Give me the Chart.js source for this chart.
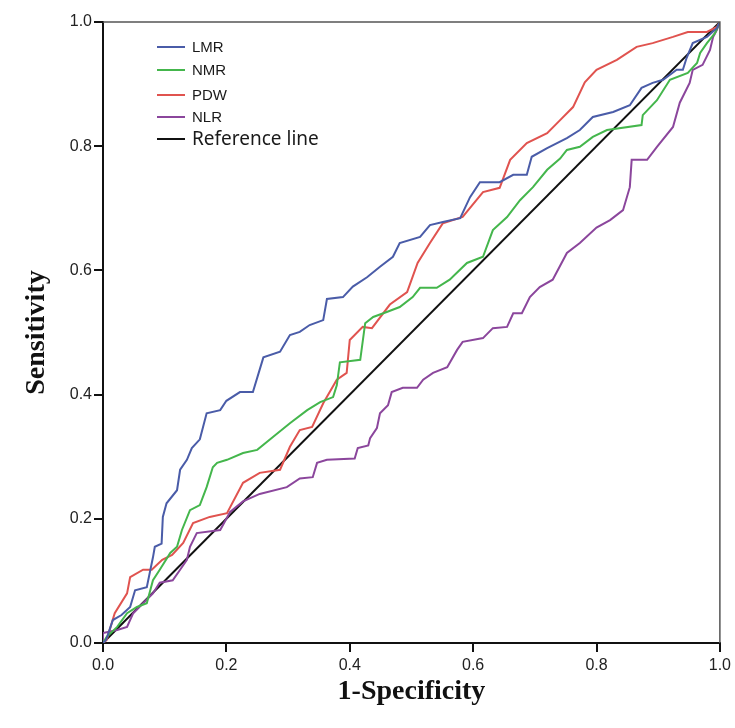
<!DOCTYPE html>
<html>
<head>
<meta charset="utf-8">
<script src="https://cdn.jsdelivr.net/npm/chart.js@4"></script>
<style>
  html, body { margin: 0; padding: 0; background: #fff; }
  #wrap { width: 735px; height: 728px; }
</style>
</head>
<body>
<div id="wrap"><canvas id="roc" width="735" height="728"></canvas></div>
<script>
// ---- data (x = 1-specificity, y = sensitivity) ----
const LMR_X = [0, 0.005, 0.016, 0.03, 0.044, 0.052, 0.071, 0.081, 0.084, 0.095, 0.097, 0.103, 0.12, 0.125, 0.136, 0.144, 0.157, 0.168, 0.19, 0.2, 0.222, 0.243, 0.26, 0.287, 0.303, 0.319, 0.335, 0.357, 0.363, 0.389, 0.405, 0.428, 0.449, 0.47, 0.481, 0.514, 0.53, 0.551, 0.579, 0.595, 0.611, 0.643, 0.665, 0.687, 0.695, 0.72, 0.752, 0.773, 0.794, 0.827, 0.854, 0.873, 0.891, 0.908, 0.93, 0.94, 0.946, 0.956, 0.979, 0.995, 1];
const LMR_Y = [0, 0.005, 0.037, 0.045, 0.058, 0.085, 0.09, 0.138, 0.155, 0.16, 0.203, 0.225, 0.246, 0.279, 0.295, 0.314, 0.328, 0.37, 0.375, 0.39, 0.404, 0.404, 0.46, 0.469, 0.496, 0.501, 0.512, 0.52, 0.554, 0.557, 0.574, 0.589, 0.606, 0.622, 0.644, 0.654, 0.673, 0.678, 0.684, 0.718, 0.742, 0.742, 0.754, 0.754, 0.783, 0.797, 0.813, 0.826, 0.847, 0.855, 0.866, 0.894, 0.902, 0.907, 0.923, 0.923, 0.942, 0.966, 0.976, 0.99, 1];

const NMR_X = [0, 0.006, 0.023, 0.039, 0.055, 0.071, 0.081, 0.092, 0.109, 0.12, 0.128, 0.141, 0.157, 0.168, 0.178, 0.185, 0.201, 0.227, 0.25, 0.276, 0.303, 0.331, 0.352, 0.373, 0.379, 0.384, 0.417, 0.425, 0.438, 0.46, 0.481, 0.502, 0.514, 0.541, 0.562, 0.59, 0.616, 0.632, 0.655, 0.676, 0.697, 0.72, 0.741, 0.752, 0.773, 0.794, 0.817, 0.873, 0.875, 0.898, 0.919, 0.948, 0.963, 0.968, 0.979, 0.992, 1];
const NMR_Y = [0, 0.01, 0.026, 0.048, 0.058, 0.064, 0.101, 0.118, 0.145, 0.155, 0.182, 0.214, 0.222, 0.251, 0.283, 0.29, 0.295, 0.306, 0.311, 0.332, 0.354, 0.375, 0.388, 0.396, 0.415, 0.452, 0.456, 0.515, 0.525, 0.533, 0.541, 0.557, 0.572, 0.572, 0.585, 0.612, 0.622, 0.665, 0.686, 0.713, 0.734, 0.762, 0.78, 0.794, 0.799, 0.815, 0.826, 0.834, 0.85, 0.874, 0.907, 0.918, 0.934, 0.95, 0.966, 0.982, 1];

const PDW_X = [0, 0.006, 0.019, 0.039, 0.044, 0.065, 0.079, 0.096, 0.112, 0.13, 0.146, 0.173, 0.201, 0.227, 0.254, 0.287, 0.303, 0.319, 0.339, 0.357, 0.379, 0.395, 0.4, 0.421, 0.436, 0.465, 0.493, 0.51, 0.53, 0.551, 0.583, 0.616, 0.643, 0.66, 0.687, 0.72, 0.741, 0.762, 0.781, 0.8, 0.833, 0.865, 0.891, 0.924, 0.948, 0.979, 0.995, 1];
const PDW_Y = [0, 0.005, 0.048, 0.08, 0.106, 0.118, 0.118, 0.134, 0.142, 0.161, 0.193, 0.203, 0.209, 0.258, 0.274, 0.279, 0.316, 0.343, 0.348, 0.386, 0.424, 0.435, 0.488, 0.509, 0.507, 0.545, 0.565, 0.612, 0.644, 0.676, 0.686, 0.726, 0.733, 0.778, 0.805, 0.821, 0.842, 0.863, 0.903, 0.923, 0.939, 0.96, 0.966, 0.976, 0.984, 0.984, 0.992, 1];

const NLR_X = [0, 0, 0.023, 0.039, 0.049, 0.065, 0.081, 0.092, 0.113, 0.125, 0.136, 0.141, 0.152, 0.19, 0.206, 0.227, 0.254, 0.298, 0.319, 0.34, 0.347, 0.363, 0.408, 0.413, 0.43, 0.433, 0.444, 0.449, 0.462, 0.468, 0.486, 0.509, 0.519, 0.535, 0.558, 0.574, 0.583, 0.616, 0.632, 0.655, 0.665, 0.679, 0.692, 0.708, 0.729, 0.752, 0.773, 0.8, 0.822, 0.843, 0.854, 0.857, 0.882, 0.898, 0.924, 0.935, 0.951, 0.956, 0.972, 0.984, 0.989, 0.995, 1];
const NLR_Y = [0, 0.016, 0.021, 0.026, 0.048, 0.064, 0.08, 0.097, 0.101, 0.118, 0.134, 0.155, 0.177, 0.182, 0.211, 0.228, 0.24, 0.251, 0.265, 0.267, 0.29, 0.295, 0.297, 0.314, 0.318, 0.33, 0.346, 0.37, 0.383, 0.404, 0.411, 0.411, 0.424, 0.435, 0.444, 0.472, 0.485, 0.491, 0.507, 0.509, 0.531, 0.531, 0.557, 0.573, 0.585, 0.628, 0.644, 0.669, 0.681, 0.697, 0.734, 0.778, 0.778, 0.799, 0.831, 0.87, 0.902, 0.923, 0.931, 0.955, 0.976, 0.987, 1];

const REF_X = [0, 1];
const REF_Y = [0, 1];

const SERIES_NAMES = ["LMR", "NMR", "PDW", "NLR", "Reference line"];
const SERIES_COLORS = ["#4a5ca8", "#44b64c", "#e0534f", "#8b469c", "#111111"];
const AXIS_TICKS = [0, 0.2, 0.4, 0.6, 0.8, 1.0];

function toPoints(xs, ys) {
    return xs.map((x, i) => ({ x: x, y: ys[i] }));
}

// ---- small plugin: top/right frame + legend inside the plot ----
const frameAndLegend = {
    id: "frameAndLegend",
    afterDraw(chart) {
        const { ctx, chartArea: a } = chart;
        ctx.save();
        // frame on top and right
        ctx.strokeStyle = "#555";
        ctx.lineWidth = 1.5;
        ctx.beginPath();
        ctx.moveTo(a.left, a.top);
        ctx.lineTo(a.right, a.top);
        ctx.lineTo(a.right, a.bottom);
        ctx.stroke();

        // legend
        const rows = [25, 48, 73, 95, 117];
        chart.data.datasets.forEach((ds, i) => {
            const y = a.top + rows[i];
            ctx.strokeStyle = ds.borderColor;
            ctx.lineWidth = 2;
            ctx.beginPath();
            ctx.moveTo(a.left + 54, y);
            ctx.lineTo(a.left + 82, y);
            ctx.stroke();
            ctx.fillStyle = "#1a1a1a";
            ctx.textBaseline = "middle";
            ctx.font = i === 4 ? "19px 'Noto Sans'" : "15px 'Liberation Sans'";
            ctx.fillText(ds.label, a.left + 89, y + 1);
        });
        ctx.restore();
    }
};

function makeDataset(i, xs, ys) {
    return {
        label: SERIES_NAMES[i],
        data: toPoints(xs, ys),
        borderColor: SERIES_COLORS[i],
        backgroundColor: SERIES_COLORS[i],
        borderWidth: 2,
        pointRadius: 0,
        showLine: true,
        tension: 0
    };
}

const axisCommon = {
    type: "linear",
    min: 0,
    max: 1,
    afterBuildTicks: (scale) => { scale.ticks = AXIS_TICKS.map(v => ({ value: v })); },
    grid: { drawOnChartArea: false, drawTicks: true, tickLength: 9, color: "#111", lineWidth: 2 },
    border: { color: "#111", width: 2 }
};

window.onload = () => {
    new Chart(document.getElementById("roc"), {
        type: "scatter",
        data: {
            datasets: [
                makeDataset(0, LMR_X, LMR_Y),
                makeDataset(1, NMR_X, NMR_Y),
                makeDataset(2, PDW_X, PDW_Y),
                makeDataset(3, NLR_X, NLR_Y),
                makeDataset(4, REF_X, REF_Y)
            ]
        },
        options: {
            responsive: false,
            animation: false,
            layout: { padding: { left: 0, top: 22, right: 15, bottom: 0 } },
            plugins: {
                legend: { display: false },
                tooltip: { enabled: false }
            },
            scales: {
                x: {
                    ...axisCommon,
                    position: "bottom",
                    ticks: {
                        padding: 4,
                        color: "#222",
                        font: { family: "'Liberation Sans', Arial", size: 16 },
                        callback: v => Number(v).toFixed(1)
                    },
                    title: {
                        display: true,
                        text: "1-Specificity",
                        color: "#111",
                        font: { family: "'Liberation Serif', 'Times New Roman', serif", size: 28, weight: "bold" },
                        padding: { top: 0, bottom: 19 }
                    },
                    afterFit: (scale) => { scale.height = 85; }
                },
                y: {
                    ...axisCommon,
                    position: "left",
                    ticks: {
                        padding: 2,
                        color: "#222",
                        font: { family: "'Liberation Sans', Arial", size: 16 },
                        callback: v => Number(v).toFixed(1)
                    },
                    title: {
                        display: true,
                        text: "Sensitivity",
                        color: "#111",
                        font: { family: "'Liberation Serif', 'Times New Roman', serif", size: 28, weight: "bold" },
                        padding: { top: 20, bottom: 0 }
                    },
                    afterFit: (scale) => { scale.width = 103; }
                }
            }
        },
        plugins: [frameAndLegend]
    });
};
</script>
</body>
</html>
